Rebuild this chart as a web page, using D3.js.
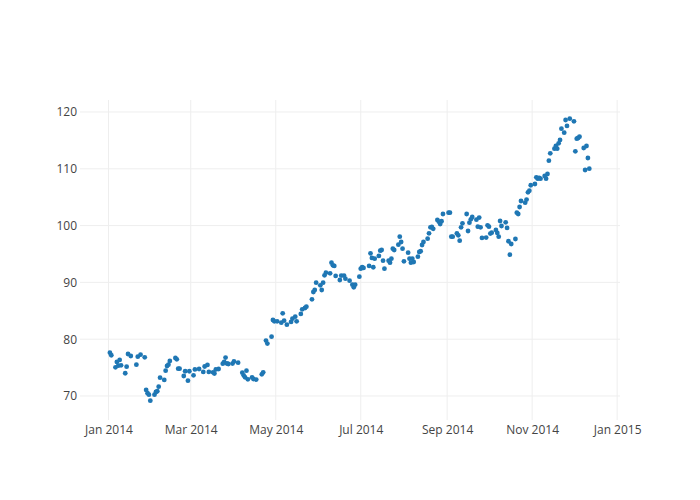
<!DOCTYPE html>
<html>
<head>
<meta charset="utf-8">
<script src="https://cdn.jsdelivr.net/npm/d3@7"></script>
<style>
  html, body { margin: 0; padding: 0; background: #fff; }
  svg { display: block; }
  text { font-family: "Open Sans", verdana, arial, sans-serif; }
</style>
</head>
<body>
<svg id="chart" width="700" height="500"></svg>
<script>
const dates = [
"2014-01-02","2014-01-03","2014-01-06","2014-01-07","2014-01-08","2014-01-09","2014-01-10","2014-01-13","2014-01-14","2014-01-15",
"2014-01-17","2014-01-21","2014-01-22","2014-01-24","2014-01-27","2014-01-28","2014-01-29","2014-01-30","2014-01-31","2014-02-03",
"2014-02-04","2014-02-05","2014-02-06","2014-02-07","2014-02-10","2014-02-11","2014-02-12","2014-02-13","2014-02-14","2014-02-18",
"2014-02-19","2014-02-20","2014-02-21","2014-02-24","2014-02-25","2014-02-27","2014-02-28","2014-03-03","2014-03-04","2014-03-07",
"2014-03-10","2014-03-11","2014-03-13","2014-03-14","2014-03-17","2014-03-18","2014-03-19","2014-03-21","2014-03-24","2014-03-25",
"2014-03-26","2014-03-27","2014-03-28","2014-03-31","2014-04-01","2014-04-04","2014-04-07","2014-04-08","2014-04-09","2014-04-10",
"2014-04-11","2014-04-14","2014-04-15","2014-04-17","2014-04-21","2014-04-22","2014-04-24","2014-04-25","2014-04-28","2014-04-29",
"2014-04-30","2014-05-02","2014-05-05","2014-05-06","2014-05-07","2014-05-09","2014-05-12","2014-05-13","2014-05-15","2014-05-16",
"2014-05-19","2014-05-20","2014-05-22","2014-05-23","2014-05-27","2014-05-28","2014-05-29","2014-05-30","2014-06-02","2014-06-03",
"2014-06-04","2014-06-05","2014-06-06","2014-06-09","2014-06-10","2014-06-11","2014-06-12","2014-06-13","2014-06-16","2014-06-17",
"2014-06-19","2014-06-20","2014-06-23","2014-06-25","2014-06-26","2014-06-27","2014-06-30","2014-07-01","2014-07-02","2014-07-03",
"2014-07-07","2014-07-08","2014-07-09","2014-07-10","2014-07-11","2014-07-14","2014-07-15","2014-07-16","2014-07-17","2014-07-18",
"2014-07-21","2014-07-22","2014-07-23","2014-07-24","2014-07-25","2014-07-28","2014-07-29","2014-07-30","2014-07-31","2014-08-01",
"2014-08-04","2014-08-05","2014-08-06","2014-08-07","2014-08-08","2014-08-11","2014-08-12","2014-08-13","2014-08-14","2014-08-15",
"2014-08-18","2014-08-19","2014-08-20","2014-08-21","2014-08-22","2014-08-25","2014-08-26","2014-08-27","2014-08-28","2014-08-29",
"2014-09-02","2014-09-03","2014-09-04","2014-09-05","2014-09-08","2014-09-09","2014-09-10","2014-09-11","2014-09-12","2014-09-15",
"2014-09-16","2014-09-17","2014-09-18","2014-09-19","2014-09-22","2014-09-23","2014-09-24","2014-09-25","2014-09-26","2014-09-29",
"2014-09-30","2014-10-01","2014-10-02","2014-10-03","2014-10-06","2014-10-07","2014-10-08","2014-10-09","2014-10-10","2014-10-13",
"2014-10-14","2014-10-15","2014-10-16","2014-10-17","2014-10-20","2014-10-21","2014-10-22","2014-10-23","2014-10-24","2014-10-27",
"2014-10-28","2014-10-29","2014-10-30","2014-10-31","2014-11-03","2014-11-04","2014-11-05","2014-11-06","2014-11-07","2014-11-10",
"2014-11-11","2014-11-12","2014-11-13","2014-11-14","2014-11-17","2014-11-18","2014-11-19","2014-11-20","2014-11-21","2014-11-22",
"2014-11-24","2014-11-25","2014-11-26","2014-11-28","2014-12-01","2014-12-02","2014-12-03","2014-12-04","2014-12-05","2014-12-08",
"2014-12-09","2014-12-10","2014-12-11","2014-12-12"
];
const values = [
77.62,77.17,75.05,75.99,75.33,76.34,75.40,74.00,75.16,77.39,
77.04,75.51,76.92,77.27,76.81,71.06,70.48,70.23,69.17,70.23,
70.70,70.83,71.64,73.22,72.82,74.45,75.28,75.51,76.16,76.69,
76.46,74.81,74.81,73.52,74.35,72.69,74.35,73.64,74.67,74.75,
74.23,75.19,75.46,74.23,74.17,73.96,74.67,74.75,75.69,75.99,
76.76,75.72,75.63,75.70,76.07,75.86,74.10,73.64,73.29,74.45,
72.94,73.29,72.99,72.89,73.82,74.17,79.75,79.23,80.44,83.38,
83.15,83.15,82.90,84.56,83.26,82.55,83.03,83.61,83.96,83.15,
84.44,85.26,85.49,85.72,87.02,88.31,88.66,89.95,89.49,88.66,
89.95,91.25,91.71,91.60,93.47,93.01,92.89,91.13,90.42,91.20,
91.20,90.65,90.30,89.60,89.14,89.60,91.00,92.41,92.66,92.54,
92.89,95.12,94.30,92.66,94.17,94.65,95.58,95.70,93.82,92.41,
93.82,93.47,94.17,95.93,95.70,96.64,98.04,97.11,95.93,93.71,
95.23,94.17,93.47,94.17,93.59,94.52,95.35,95.48,96.58,97.11,
97.69,98.64,99.70,99.75,99.42,100.99,100.69,100.28,100.76,102.04,
102.27,102.27,98.04,98.04,98.64,98.29,97.34,99.70,100.40,102.04,
99.05,100.51,101.11,101.51,101.04,99.81,101.41,99.70,97.82,97.89,
100.05,99.81,98.59,98.75,99.23,98.70,98.04,100.81,99.93,100.58,
99.58,97.24,94.88,96.76,97.64,102.27,102.04,103.27,104.33,104.03,
104.58,105.86,106.14,107.10,107.32,108.50,108.26,108.38,108.26,108.73,
108.26,109.08,111.43,112.73,113.54,114.01,113.54,114.49,115.07,117.06,
116.36,118.59,117.54,118.82,118.36,113.08,115.30,115.42,115.65,113.66,
109.79,114.01,111.90,110.02
];
const xTickDates = ["2014-01-01","2014-03-01","2014-05-01","2014-07-01","2014-09-01","2014-11-01","2015-01-01"];
const xTickLabels = ["Jan 2014","Mar 2014","May 2014","Jul 2014","Sep 2014","Nov 2014","Jan 2015"];
const yTicks = [70, 80, 90, 100, 110, 120];

const parse = d3.utcParse("%Y-%m-%d");
const data = dates.map((d, i) => ({ date: parse(d), value: values[i] }));

const margin = { left: 80, right: 80, top: 100, bottom: 80 };
const W = 700, H = 500;
const svg = d3.select("#chart");

const x = d3.scaleUtc()
  .domain([new Date(Date.UTC(2013, 11, 11, 13)), new Date(Date.UTC(2015, 0, 3, 1))])
  .range([margin.left, W - margin.right]);
const y = d3.scaleLinear()
  .domain([65.77, 122.11])
  .range([H - margin.bottom, margin.top]);

const tickDates = xTickDates.map(parse);

// gridlines
const grid = svg.append("g");
grid.selectAll("line.gx").data(tickDates).enter().append("line")
  .attr("x1", d => x(d)).attr("x2", d => x(d))
  .attr("y1", margin.top).attr("y2", H - margin.bottom)
  .attr("stroke", "#eee").attr("stroke-width", 1);
grid.selectAll("line.gy").data(yTicks).enter().append("line")
  .attr("x1", margin.left).attr("x2", W - margin.right)
  .attr("y1", d => y(d)).attr("y2", d => y(d))
  .attr("stroke", "#eee").attr("stroke-width", 1);

// axes
const xAxis = d3.axisBottom(x).tickValues(tickDates)
  .tickFormat((d, i) => xTickLabels[i]).tickSize(0).tickPadding(5);
const gx = svg.append("g").attr("transform", `translate(0,${H - margin.bottom})`).call(xAxis);
gx.select(".domain").remove();
gx.selectAll("text").attr("fill", "#444").style("font-size", "12px")
  .style("font-family", '"Open Sans", verdana, arial, sans-serif');

const yAxis = d3.axisLeft(y).tickValues(yTicks).tickSize(0).tickPadding(3);
const gy = svg.append("g").attr("transform", `translate(${margin.left},0)`).call(yAxis);
gy.select(".domain").remove();
gy.selectAll("text").attr("fill", "#444").style("font-size", "12px")
  .style("font-family", '"Open Sans", verdana, arial, sans-serif');

// points
svg.append("g").selectAll("circle").data(data).enter().append("circle")
  .attr("cx", d => x(d.date))
  .attr("cy", d => y(d.value))
  .attr("r", 2.4)
  .attr("fill", "#1f77b4");
</script>
</body>
</html>
